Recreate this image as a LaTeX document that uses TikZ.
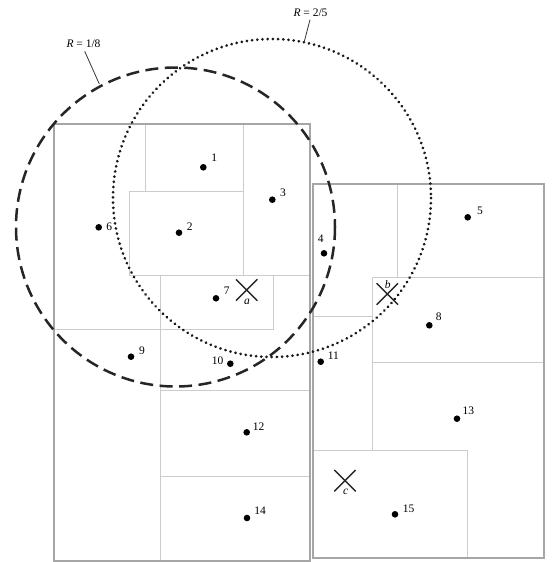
\documentclass[tikz,border=0pt]{standalone}
\usepackage{fontspec}
\setmainfont{Liberation Serif}
\usepackage{tikz}
\usetikzlibrary{shapes.misc}

\begin{document}
\begin{tikzpicture}[x=1pt, y=-1pt,
  outer/.style={draw=black!35, line width=1.6pt},
  inner/.style={draw=black!20, line width=1pt},
  pt/.style={circle, fill=black, inner sep=0pt, minimum size=6.6pt},
  num/.style={inner sep=1pt, font=\fontsize{11.5}{13}\selectfont},
  qpt/.style={cross out, draw=black!85, line width=1.4pt, inner sep=0pt, minimum size=20pt},
  qlbl/.style={inner sep=0.5pt, font=\fontsize{11.5}{13}\selectfont\itshape},
  rng1/.style={draw=black!85, line width=2.5pt, dash pattern=on 13pt off 6.5pt},
  rng2/.style={draw=black!90, line width=3pt, line cap=round, dash pattern=on 0.01pt off 5.2pt},
  lead/.style={draw=black!80, line width=0.8pt}]
\useasboundingbox (0,0) rectangle (553,562);
% left block
\draw[inner] (145,124) -- (145,191);
\draw[inner] (129,191) rectangle (243,275);
\draw[inner] (243,124) -- (243,191);
\draw[inner] (243,275) -- (310,275);
\draw[inner] (160,275) rectangle (273,329);
\draw[inner] (54,329) -- (160,329);
\draw[inner] (160,329) -- (160,561);
\draw[inner] (160,390) -- (310,390);
\draw[inner] (160,476) -- (310,476);
\draw[outer] (54,124) rectangle (310,561);
% right block
\draw[inner] (397,184) -- (397,277);
\draw[inner] (372,277) -- (544,277);
\draw[inner] (372,277) -- (372,450);
\draw[inner] (313,316) -- (372,316);
\draw[inner] (372,362) -- (544,362);
\draw[inner] (313,450) rectangle (467,558);
\draw[outer] (313,184) rectangle (544,558);
% points
\node[pt] (p1) at (203.3,167.3) {};  \node[num] (n1) at (214.3,157.7) {1};
\node[pt] (p2) at (179,232.7) {};    \node[num] (n2) at (189.7,227) {2};
\node[pt] (p3) at (272.3,199.7) {};  \node[num] (n3) at (283,192.7) {3};
\node[pt] (p4) at (324,253.3) {};    \node[num] (n4) at (320.7,239) {4};
\node[pt] (p5) at (467.7,217.3) {};  \node[num] (n5) at (480,210.7) {5};
\node[pt] (p6) at (98.7,227.3) {};   \node[num] (n6) at (109.3,226.7) {6};
\node[pt] (p7) at (216,298.3) {};    \node[num] (n7) at (226.7,290.3) {7};
\node[pt] (p8) at (429.3,325.3) {};  \node[num] (n8) at (438.7,316.7) {8};
\node[pt] (p9) at (131,356.7) {};    \node[num] (n9) at (142,351) {9};
\node[pt] (p10) at (230.3,363.7) {}; \node[num] (n10) at (217.7,361) {10};
\node[pt] (p11) at (320.7,361.7) {}; \node[num] (n11) at (333.3,356) {11};
\node[pt] (p12) at (246.7,432.3) {}; \node[num] (n12) at (258.7,426.7) {12};
\node[pt] (p13) at (457,418.7) {};   \node[num] (n13) at (468.3,410.7) {13};
\node[pt] (p14) at (247,518) {};     \node[num] (n14) at (260,511) {14};
\node[pt] (p15) at (395,514.3) {};   \node[num] (n15) at (408.7,508.7) {15};
% query points
\node[qpt] (qa) at (246.7,290) {};   \node[qlbl] (la) at (247,302) {a};
\node[qpt] (qb) at (387.3,294) {};   \node[qlbl] (lb) at (387.7,285) {b};
\node[qpt] (qc) at (345,480.7) {};   \node[qlbl] (lc) at (345.7,491.5) {c};
% search ranges
\draw[rng1] (175.5,227) circle (159.5);
\draw[rng2] (272,198) circle (159);
\node[num] (r18) at (83.5,43.5) {\textit{R} = 1/8};
\node[num] (r25) at (310.5,12.7) {\textit{R} = 2/5};
\coordinate (c18) at (99.3,84);
\coordinate (c25) at (304,42.7);
\draw[lead, shorten <=3pt] (r18.south) -- (c18);
\draw[lead, shorten <=2pt] (r25.south) -- (c25);
\end{tikzpicture}
\end{document}
